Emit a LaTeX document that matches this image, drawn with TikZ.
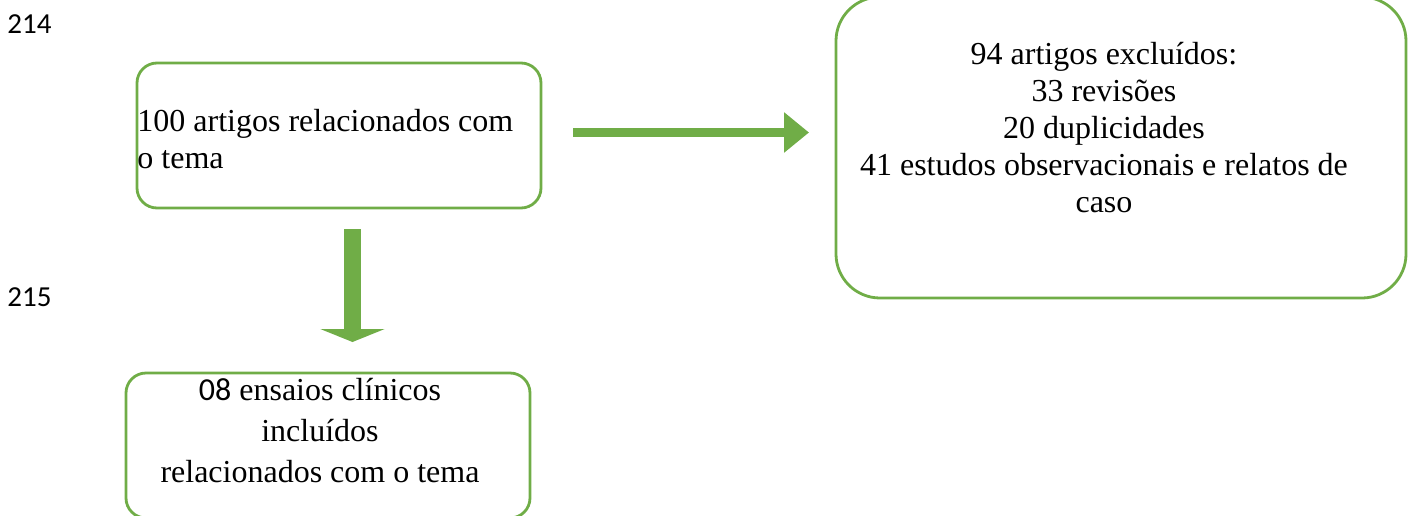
\documentclass[tikz,border=0pt]{standalone}
\usepackage{fontspec}
\setmainfont{Liberation Serif}
\newfontfamily\calibri{Carlito}
\usetikzlibrary{arrows.meta}
\definecolor{verde}{RGB}{112,173,71}

\begin{document}
\begin{tikzpicture}[x=0.5pt,y=-0.5pt,
    caixa/.style={draw=verde, line width=1.4pt, rounded corners=10pt, inner sep=0pt, outer sep=0pt},
    texto/.style={inner sep=0pt, font=\fontsize{16}{18.5}\selectfont},
    numlinha/.style={inner sep=0pt, anchor=base west, font=\calibri\fontsize{14.5}{17}\selectfont}]
  \useasboundingbox (0,0) rectangle (1414,515);
  \clip (0,0) rectangle (1414,515);

  \coordinate (A) at (339,135.5);
  \coordinate (B) at (1121,147.5);
  \coordinate (C) at (328,445.5);

  % numeros de linha
  \node[numlinha] (ln214) at (7,33) {214};
  \node[numlinha] (ln215) at (7,306) {215};

  % caixas
  \node[caixa, minimum width=202pt, minimum height=72.5pt] (box100) at (A) {};
  \node[caixa, rounded corners=22pt, minimum width=285pt, minimum height=150.5pt] (box94) at (B) {};
  \node[caixa, minimum width=202pt, minimum height=72.5pt] (box08) at (C) {};

  % textos (base = ultima linha)
  \node[texto, anchor=base west, align=left] (t100) at (137,168)
    {100 artigos relacionados com\\o tema};
  \node[texto, anchor=base, align=center] (t94) at (1104,212)
    {94 artigos excluídos:\\33 revisões\\20 duplicidades\\41 estudos observacionais e relatos de\\caso};
  \node[texto, anchor=base, align=center, font=\fontsize{16}{20.5}\selectfont] (t08) at (320,482)
    {{\calibri 08} ensaios clínicos\\incluídos\\relacionados com o tema};

  % setas
  \draw[verde, line width=4.8pt, -{Triangle[length=12.5pt,width=19.5pt]}, shorten <=16pt, shorten >=13.5pt]
    ([yshift=1.5pt]box100.east) -- ([yshift=1.5pt]box100.east -| box94.west);
  \draw[verde, line width=8.5pt, -{Triangle[length=6.5pt,width=32pt]}, shorten <=10.5pt, shorten >=15.5pt]
    ([xshift=6.75pt]box100.south) -- ([xshift=6.75pt]box100.south |- box08.north);
\end{tikzpicture}
\end{document}
